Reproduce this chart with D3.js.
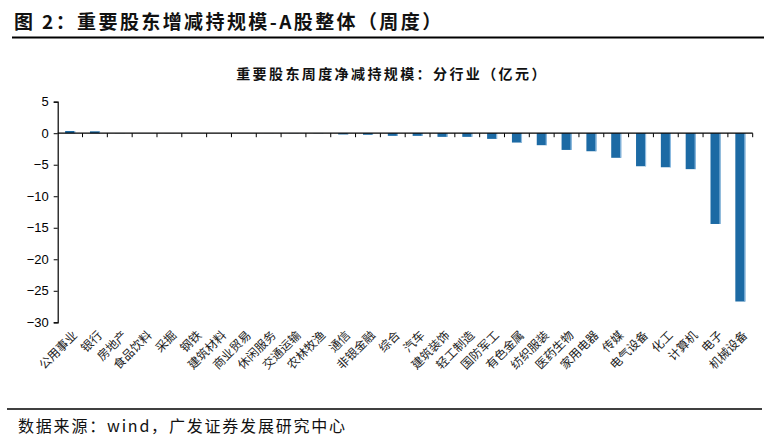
<!DOCTYPE html>
<html><head><meta charset="utf-8">
<script src="https://cdn.jsdelivr.net/npm/d3@7"></script>
<style>body{margin:0;background:#fff;}svg{display:block;}</style>
</head><body>
<script>
const categories = ["公用事业","银行","房地产","食品饮料","采掘","钢铁","建筑材料","商业贸易","休闲服务","交通运输","农林牧渔","通信","非银金融","综合","汽车","建筑装饰","轻工制造","国防军工","有色金属","纺织服装","医药生物","家用电器","传媒","电气设备","化工","计算机","电子","机械设备"];
const values = [0.35,0.3,0.02,0.01,0.01,0.0,0.0,0.0,-0.01,-0.02,-0.03,-0.2,-0.25,-0.42,-0.42,-0.58,-0.58,-0.9,-1.48,-1.9,-2.65,-2.86,-3.9,-5.24,-5.4,-5.7,-14.4,-26.7];
const yTicks = [5,0,-5,-10,-15,-20,-25,-30];
const headerText = "图 2：重要股东增减持规模-A股整体（周度）";
const chartTitle = "重要股东周度净减持规模：分行业（亿元）";
const sourceText = "数据来源：wind，广发证券发展研究中心";

const W = 782, H = 445;
const svg = d3.select("body").append("svg").attr("width", W).attr("height", H);
const cjk = "'Noto Sans CJK SC','Noto Sans',sans-serif";

// header
svg.append("text").attr("x", 14).attr("y", 29).text(headerText)
  .attr("font-family", cjk).attr("font-weight", "bold").attr("font-size", 19)
  .attr("letter-spacing", 2.4).attr("fill", "#111");
svg.append("line").attr("x1", 12).attr("x2", 764).attr("y1", 37.5).attr("y2", 37.5)
  .attr("stroke", "#000").attr("stroke-width", 2);

// chart title
svg.append("text").attr("x", 392).attr("y", 79).attr("text-anchor", "middle").text(chartTitle)
  .attr("font-family", cjk).attr("font-weight", "bold").attr("font-size", 14)
  .attr("letter-spacing", 2.4).attr("fill", "#111");

const x = d3.scaleBand().domain(categories).range([57.7, 752.7]).paddingInner(0.6).paddingOuter(0.3);
const y = d3.scaleLinear().domain([-30, 5]).range([322.3, 101.7]);

// bars
const bars = svg.append("g");
bars.selectAll("rect.bar").data(values).join("rect").attr("class", "bar")
  .attr("x", (d, i) => x(categories[i]))
  .attr("width", x.bandwidth())
  .attr("y", d => y(Math.max(0, d)))
  .attr("height", d => Math.abs(y(d) - y(0)))
  .attr("fill", "#1c6aa4");
bars.selectAll("rect.edge").data(values).join("rect").attr("class", "edge")
  .attr("x", (d, i) => x(categories[i]) + x.bandwidth() - 1)
  .attr("width", 1.2)
  .attr("y", d => y(Math.max(0, d)))
  .attr("height", d => Math.abs(y(d) - y(0)))
  .attr("fill", "#8dbbe0");

// y axis
const yAxis = svg.append("g").attr("transform", "translate(57.7,0)")
  .call(d3.axisLeft(y).tickValues(yTicks).tickSize(4).tickFormat(d3.format("d")));
yAxis.select(".domain").attr("stroke", "#000").attr("stroke-width", 1.2);
yAxis.selectAll(".tick line").attr("stroke", "#000");
yAxis.selectAll(".tick text").attr("font-family", "Arial, 'Liberation Sans', sans-serif")
  .attr("font-size", 13).attr("fill", "#000").attr("x", -9);

// x axis line at zero with ticks at category boundaries
const xg = svg.append("g");
xg.append("line").attr("x1", 57.7).attr("x2", 752.7).attr("y1", y(0)).attr("y2", y(0))
  .attr("stroke", "#000").attr("stroke-width", 1.2);
const step = x.step();
const boundaries = categories.map(c => x(c) - (step - x.bandwidth()) / 2).concat([752.7]);
xg.selectAll("line.tk").data(boundaries.slice(1)).join("line").attr("class", "tk")
  .attr("x1", d => d).attr("x2", d => d).attr("y1", y(0)).attr("y2", y(0) + 4)
  .attr("stroke", "#000").attr("stroke-width", 1);

// x labels rotated
xg.selectAll("text.lbl").data(categories).join("text").attr("class", "lbl")
  .attr("transform", c => `translate(${x(c) + x.bandwidth() / 2 + 5},${333}) rotate(-45)`)
  .attr("text-anchor", "end").attr("dy", "0.35em")
  .attr("font-family", cjk).attr("font-size", 12).attr("fill", "#222")
  .text(c => c);

// bottom line and source
svg.append("line").attr("x1", 7).attr("x2", 762).attr("y1", 409).attr("y2", 409)
  .attr("stroke", "#000").attr("stroke-width", 1.5);
svg.append("text").attr("x", 18).attr("y", 432).text(sourceText)
  .attr("font-family", cjk).attr("font-size", 16).attr("letter-spacing", 1.8).attr("fill", "#111");
</script>
</body></html>
